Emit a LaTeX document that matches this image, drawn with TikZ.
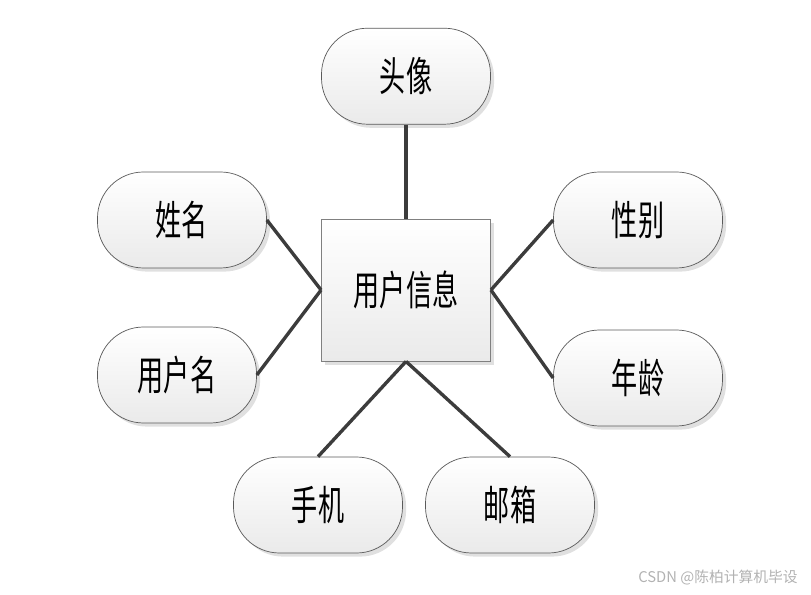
\documentclass[tikz,border=0pt]{standalone}
\usepackage{fontspec}
\usepackage{xcolor}
\usepackage{tikz}
\usetikzlibrary{shapes,positioning,shadows}
\newfontfamily\cjk[FakeStretch=0.64]{Noto Sans CJK SC}
\newfontfamily\cjkplain{Noto Sans CJK SC}
\definecolor{erline}{RGB}{60,60,60}
\definecolor{erborder}{RGB}{90,90,90}
\definecolor{erbottom}{RGB}{234,234,234}

\begin{document}
\begin{tikzpicture}[
    attr/.style={rectangle, draw=erborder, line width=0.5pt, top color=white, bottom color=erbottom, minimum width=4.225cm, minimum height=2.4cm, rounded corners=1.15cm, text centered, font=\cjk\fontsize{29}{32}\selectfont, drop shadow={shadow xshift=0.09cm, shadow yshift=-0.09cm, fill=gray!40, opacity=0.6}},
    entity/.style={rectangle, draw=gray, line width=0.6pt, top color=white, bottom color=erbottom, minimum width=4.225cm, minimum height=3.55cm, text centered, font=\cjk\fontsize{29}{32}\selectfont, drop shadow={shadow xshift=0.09cm, shadow yshift=-0.09cm, fill=gray!40, opacity=0.6}},
    link/.style={erline, line width=2.4pt}]
  \useasboundingbox (-10.15,7.25) rectangle (10.125,-7.625);
  \node[entity] (info) at (0,0) {用户信息};
  \node[attr, above=2.35cm of info] (avatar) {头像};
  \node[attr] (name) at (-5.6,1.75) {姓名};
  \node[attr, minimum width=3.975cm] (user) at (-5.725,-2.125) {用户名};
  \node[attr] (gender) at (5.8,1.75) {性别};
  \node[attr] (age) at (5.8,-2.2) {年龄};
  \node[attr] (phone) at (-2.2,-5.375) {手机};
  \node[attr] (mail) at (2.6,-5.375) {邮箱};
  \node[text=gray!60, font=\cjkplain\fontsize{10.5}{12}\selectfont] (mark) at (7.8,-7.2) {CSDN @陈柏计算机毕设};
  \draw[link] (avatar.south) -- (info.north);
  \draw[link] (name.east) -- (info.west);
  \draw[link] (user.east) -- (info.west);
  \draw[link] (gender.west) -- (info.east);
  \draw[link] (age.west) -- (info.east);
  \draw[link] (phone.north) -- (info.south);
  \draw[link] (mail.north) -- (info.south);
\end{tikzpicture}
\end{document}
